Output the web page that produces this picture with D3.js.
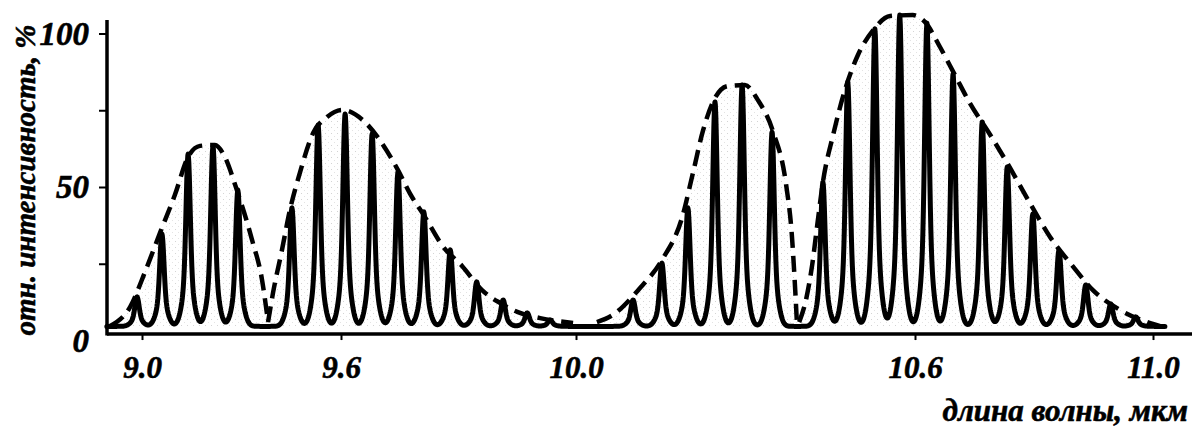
<!DOCTYPE html>
<html>
<head>
<meta charset="utf-8">
<script src="https://cdn.jsdelivr.net/npm/d3@7/dist/d3.min.js"></script>
<style>
  html, body { margin: 0; padding: 0; background: #fff; }
  svg { display: block; }
  text {
    font-family: "Liberation Serif", "Times New Roman", serif;
    font-weight: bold;
    font-style: italic;
    fill: #000;
    stroke: #000;
    stroke-width: 0.6px;
  }
</style>
</head>
<body>
<svg id="chart" width="1192" height="427"></svg>
<script>
// Axis ticks
const xTicks = [9.0, 9.6, 10.0, 10.6, 11.0];          // wavelength, µm
const yTickMarks = [25, 50, 75, 100];                 // relative intensity, %
const yTickLabels = [0, 50, 100];

// Individual laser lines: [wavelength µm, relative intensity %]
const lines92 = [[8.985, 14.2], [9.060, 34.7], [9.139, 60.7], [9.214, 63.4], [9.289, 49.0]];
const lines96 = [[9.452, 43.2], [9.531, 70.2], [9.607, 73.8], [9.653, 67.3], [9.697, 54.9],
                 [9.741, 41.9], [9.786, 29.5], [9.831, 19.1], [9.876, 13.2], [9.917, 9.0], [9.956, 6.7]];
const lines102 = [[10.101, 13.2], [10.152, 25.2], [10.198, 43.2], [10.246, 77.7], [10.294, 83.2], [10.347, 67.9]];
const lines106 = [[10.437, 51.6], [10.481, 84.2], [10.529, 101.5], [10.573, 106.0], [10.620, 103.4],
                  [10.664, 86.8], [10.713, 71.2], [10.755, 56.5], [10.798, 41.2], [10.842, 29.5],
                  [10.887, 18.1], [10.929, 11.9], [10.971, 7.7]];

// Band envelopes (dashed): [wavelength µm, relative intensity %]
const env92 = [[8.904, 4.7], [8.964, 10.9], [9.009, 22.3], [9.054, 35.0], [9.099, 47.4], [9.139, 59.8],
               [9.175, 63.4], [9.220, 63.7], [9.247, 60.4], [9.286, 49.0], [9.332, 32.7], [9.362, 19.7], [9.380, 6.0]];
const env96 = [[9.380, 6.0], [9.395, 15.5], [9.422, 29.5], [9.446, 42.5], [9.476, 54.6], [9.516, 67.6],
               [9.558, 72.8], [9.602, 75.1], [9.637, 71.8], [9.666, 65.3], [9.697, 55.5], [9.717, 48.0],
               [9.743, 40.2], [9.774, 30.5], [9.806, 24.3], [9.840, 16.4], [9.871, 12.2], [9.900, 9.3],
               [9.939, 7.3], [9.995, 5.7]];
const env102 = [[10.037, 6.0], [10.065, 8.3], [10.110, 16.4], [10.152, 26.2], [10.188, 40.2], [10.207, 54.6],
                [10.225, 68.5], [10.246, 79.0], [10.269, 82.9], [10.299, 83.2], [10.322, 78.3],
                [10.349, 67.9], [10.372, 50.6], [10.382, 34.4], [10.388, 16.4], [10.391, 5.7]];
const env106 = [[10.395, 6.0], [10.407, 13.2], [10.418, 24.6], [10.427, 37.6], [10.437, 51.6], [10.455, 66.9],
                [10.476, 81.6], [10.499, 93.0], [10.526, 101.1], [10.556, 105.7], [10.596, 106.0],
                [10.617, 103.7], [10.642, 95.6], [10.667, 86.5], [10.692, 77.4], [10.726, 67.1],
                [10.755, 57.8], [10.793, 44.8], [10.827, 33.7], [10.866, 24.0], [10.899, 16.4],
                [10.945, 9.9], [10.990, 6.0], [11.017, 4.4]];

// Recorded spectrum extent and its floor level
const spectrumRange = [8.894, 11.020];
const spectrumFloor = 4.6;
const axisFloor = 2.1;     // level where the wavelength axis sits
const axisTop = 104.4;     // top end of the intensity axis

const svg = d3.select("#chart");

// The wavelength scale of this plot is not uniform, so it is piecewise linear between ticks
const x = d3.scaleLinear().domain(xTicks).range([142, 341, 576, 915, 1153]);
const y = d3.scaleLinear().domain([0, 100]).range([340.5, 33.5]);

const xAxisY = y(axisFloor);
const yAxisX = 107;

// light stipple under the bands
const defs = svg.append("defs");
const pat = defs.append("pattern").attr("id", "stipple")
  .attr("width", 6).attr("height", 6).attr("patternUnits", "userSpaceOnUse");
pat.append("rect").attr("x", 1).attr("y", 1).attr("width", 1).attr("height", 1).attr("fill", "#aaa");
pat.append("rect").attr("x", 4).attr("y", 4).attr("width", 1).attr("height", 1).attr("fill", "#c8c8c8");

const area = d3.area().curve(d3.curveMonotoneX)
  .x(d => x(d[0])).y0(y(spectrumFloor)).y1(d => y(d[1]));
svg.append("g").attr("opacity", 0.5)
  .selectAll("path").data([env92, env96, env102, env106]).join("path")
  .attr("d", area).attr("fill", "url(#stipple)");

// Solid spectrum: each laser line drawn as a narrow peak (sharp core, wider foot) on the recorder floor
const allLines = [...lines92, ...lines96, ...lines102, ...lines106];
const coreWidth = 2.0, footWidth = 5.0, footShare = 0.3; // px
function profile(d) {
  const a = d / coreWidth, b = d / footWidth;
  return (1 - footShare) * Math.exp(-0.5 * a * a) + footShare * Math.exp(-0.5 * b * b);
}
const samples = [];
const px0 = x(spectrumRange[0]), px1 = x(spectrumRange[1]);
const grid = d3.range(px0, px1, 0.5).concat([px1], allLines.map(d => x(d[0]))).sort((a, b) => a - b);
for (const px of grid) {
  let v = spectrumFloor;
  for (const [wl, h] of allLines) {
    const d = px - x(wl);
    if (Math.abs(d) < 30) v += (h - spectrumFloor) * profile(d);
  }
  samples.push([x.invert(px), v]);
}
const line = d3.line().x(d => x(d[0])).y(d => y(d[1]));
svg.append("path").datum(samples)
  .attr("d", line)
  .attr("fill", "none").attr("stroke", "#000")
  .attr("stroke-width", 5).attr("stroke-linejoin", "round").attr("stroke-linecap", "round");

// Dashed envelopes
const envLine = d3.line().curve(d3.curveMonotoneX).x(d => x(d[0])).y(d => y(d[1]));
svg.append("g").selectAll("path").data([env92, env96, env102, env106]).join("path")
  .attr("d", envLine)
  .attr("fill", "none").attr("stroke", "#000")
  .attr("stroke-width", 4.5).attr("stroke-dasharray", "16,8");

// Wavelength axis
const xAxis = d3.axisBottom(x).tickValues(xTicks).tickSize(6).tickPadding(0)
  .tickFormat(d3.format(".1f"));
const gx = svg.append("g").attr("transform", `translate(0,${xAxisY})`).call(xAxis);
gx.select(".domain").remove();
gx.selectAll(".tick line").attr("stroke", "#000").attr("stroke-width", 2);
gx.selectAll(".tick text")
  .attr("y", 44).attr("dy", null)
  .style("font-size", "31px");
svg.append("line")
  .attr("x1", yAxisX).attr("x2", 1192)
  .attr("y1", xAxisY).attr("y2", xAxisY)
  .attr("stroke", "#000").attr("stroke-width", 3.5);

// Intensity axis
const yAxis = d3.axisLeft(y).tickValues(yTickMarks).tickSize(8).tickFormat("");
const gy = svg.append("g").attr("transform", `translate(${yAxisX},0)`).call(yAxis);
gy.select(".domain").remove();
gy.selectAll(".tick line").attr("stroke", "#000").attr("stroke-width", 2);
svg.append("line")
  .attr("x1", yAxisX).attr("x2", yAxisX)
  .attr("y1", y(axisTop)).attr("y2", xAxisY + 1.5)
  .attr("stroke", "#000").attr("stroke-width", 3.5);
svg.append("g").selectAll("text").data(yTickLabels).join("text")
  .attr("x", 89).attr("y", d => y(d)).attr("dy", "0.34em")
  .attr("text-anchor", "end")
  .style("font-size", "33px")
  .text(d => d);

// Axis titles
svg.append("text")
  .attr("transform", "translate(35,180) rotate(-90)")
  .attr("text-anchor", "middle")
  .style("font-size", "29px")
  .text("отн. интенсивность, %");
svg.append("text")
  .attr("x", 1188).attr("y", 421)
  .attr("text-anchor", "end")
  .style("font-size", "31px")
  .text("длина волны, мкм");
</script>
</body>
</html>
